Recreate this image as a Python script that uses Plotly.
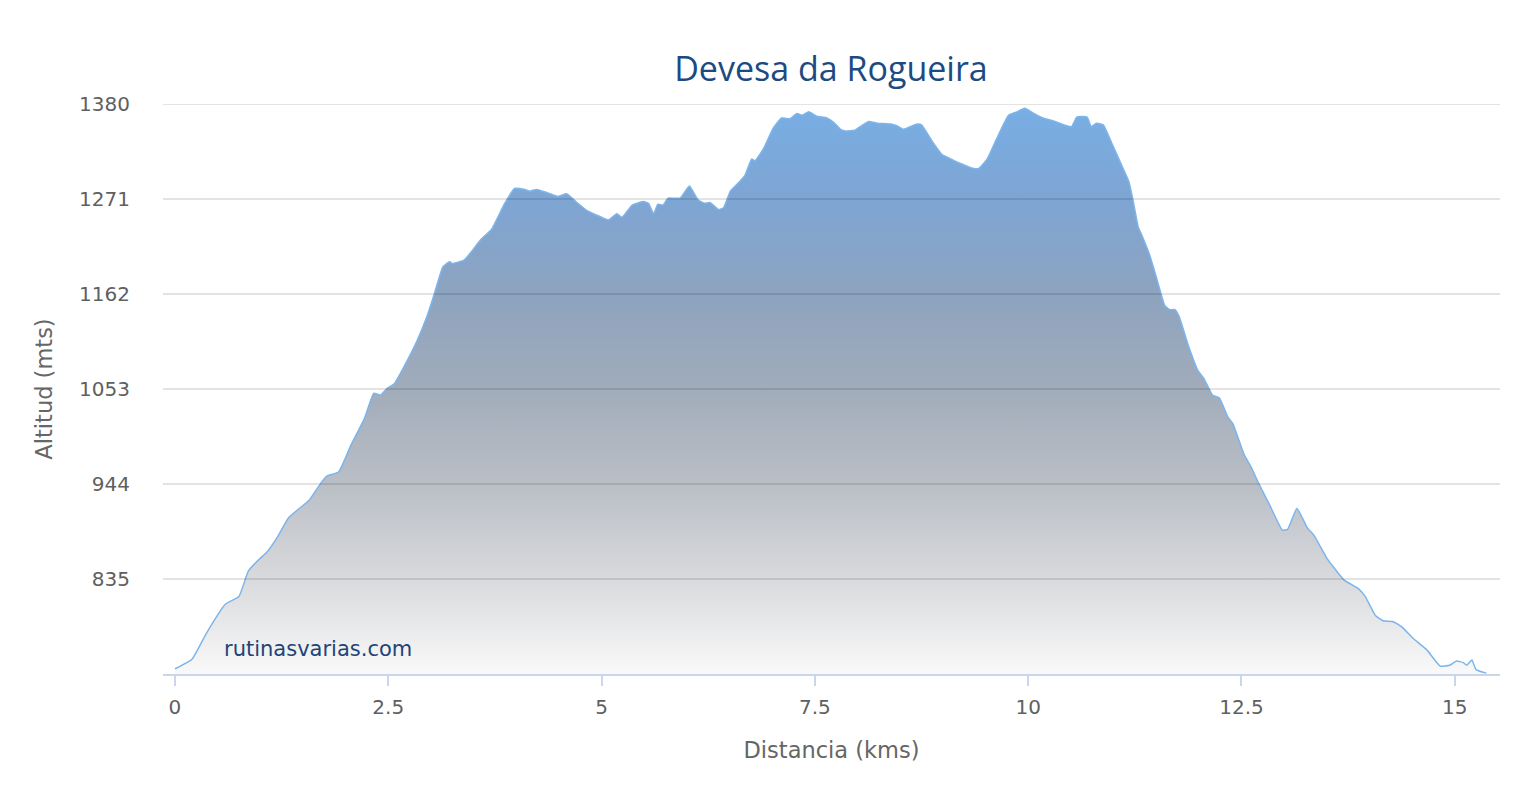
import plotly.graph_objects as go

# perfil de altitud (distancia en km, altitud en m)
km = [0, 0.2, 0.37, 0.59, 0.75, 0.86, 0.98, 1.08, 1.2, 1.33, 1.47, 1.57, 1.71, 1.78, 1.92,
      2.06, 2.22, 2.33, 2.41, 2.49, 2.57, 2.73, 2.84, 2.96, 3.04, 3.14, 3.22, 3.25, 3.39, 3.47,
      3.59, 3.71, 3.86, 3.98, 4.1, 4.16, 4.24, 4.37, 4.49, 4.59, 4.71, 4.84, 4.98, 5.08, 5.18,
      5.24, 5.36, 5.49, 5.55, 5.61, 5.66, 5.72, 5.78, 5.92, 6.03, 6.13, 6.21, 6.27, 6.37, 6.43,
      6.51, 6.62, 6.68, 6.76, 6.8, 6.9, 7.01, 7.11, 7.21, 7.29, 7.35, 7.43, 7.52, 7.64, 7.72,
      7.8, 7.86, 7.97, 8.13, 8.23, 8.39, 8.46, 8.54, 8.7, 8.75, 8.89, 8.99, 9.05, 9.2, 9.36,
      9.42, 9.52, 9.63, 9.77, 9.87, 9.96, 10.07, 10.2, 10.28, 10.45, 10.51, 10.57, 10.69, 10.74,
      10.8, 10.88, 10.98, 11.09, 11.18, 11.23, 11.29, 11.33, 11.42, 11.5, 11.6, 11.66, 11.72,
      11.77, 11.87, 11.99, 12.06, 12.16, 12.24, 12.34, 12.4, 12.53, 12.61, 12.69, 12.84, 12.98,
      13.04, 13.15, 13.27, 13.35, 13.5, 13.7, 13.87, 13.95, 14.07, 14.16, 14.28, 14.38, 14.51,
      14.67, 14.83, 14.94, 15.02, 15.1, 15.14, 15.2, 15.25, 15.37]

altitud = [732, 743, 773, 806, 815, 844, 857, 866, 883, 905, 917, 925, 945, 953, 958,
           988, 1019, 1048, 1046, 1054, 1059, 1087, 1109, 1138, 1162, 1193, 1199, 1197, 1201, 1210,
           1225, 1236, 1265, 1283, 1282, 1280, 1282, 1278, 1274, 1277, 1267, 1257, 1251, 1247, 1254,
           1250, 1264, 1268, 1266, 1254, 1265, 1264, 1272, 1272, 1286, 1270, 1266, 1267, 1259, 1261,
           1280, 1291, 1298, 1317, 1315, 1329, 1352, 1364, 1363, 1369, 1367, 1371, 1366, 1364, 1359,
           1351, 1349, 1350, 1360, 1358, 1357, 1355, 1351, 1357, 1356, 1335, 1322, 1319, 1312, 1306,
           1306, 1317, 1340, 1367, 1371, 1375, 1369, 1363, 1361, 1355, 1354, 1365, 1365, 1354,
           1358, 1356, 1335, 1311, 1291, 1269, 1239, 1230, 1208, 1182, 1149, 1144, 1144,
           1136, 1105, 1074, 1065, 1046, 1043, 1021, 1013, 978, 964, 947, 918, 891,
           892, 916, 894, 885, 859, 834, 824, 815, 793, 787, 786, 780, 767,
           754, 735, 736, 741, 739, 736, 742, 731, 727]

y_ticks = [835, 944, 1053, 1162, 1271, 1380]
x_ticks = [0, 2.5, 5, 7.5, 10, 12.5, 15]
x_labels = ["0", "2.5", "5", "7.5", "10", "12.5", "15"]

fig = go.Figure()
fig.add_trace(go.Scatter(
    x=km, y=altitud, mode="lines", fill="tozeroy",
    line=dict(color="#7cb5ec", width=1.5, shape="spline", smoothing=0.4),
    fillgradient=dict(
        type="vertical", start=726, stop=1380,
        colorscale=[[0, "rgb(249,249,249)"],
                    [0.17, "rgb(216,217,220)"],
                    [0.33, "rgb(186,191,198)"],
                    [0.5, "rgb(161,172,186)"],
                    [0.67, "rgb(141,163,191)"],
                    [0.83, "rgb(126,165,211)"],
                    [1, "rgb(120,174,228)"]]),
    hoverinfo="x+y", showlegend=False,
))

# lineas de rejilla por encima del relleno
for v in y_ticks:
    fig.add_hline(y=v, line=dict(color="rgba(0,0,0,0.15)", width=1.5), layer="above")

fig.add_annotation(
    text="rutinasvarias.com", xref="paper", yref="paper", x=0.044, y=0.044,
    xanchor="left", yanchor="middle", showarrow=False,
    font=dict(family="DejaVu Sans", size=21, color="#1f4478"),
)

# la pagina tiene 8px de margen en el body
fig.update_layout(
    width=1524, height=784,
    margin=dict(l=155, r=32, t=96, b=118),
    paper_bgcolor="white", plot_bgcolor="white",
    font=dict(family="DejaVu Sans", color="#666666"),
    title=dict(text="Devesa da Rogueira", x=0.54, xanchor="center", y=0.922, yanchor="middle",
               font=dict(family="Open Sans", size=34, color="#1c4a82")),
    xaxis=dict(
        range=[-0.14, 15.53], tickvals=x_ticks, ticktext=x_labels,
        showgrid=False, zeroline=False, showline=True, linecolor="#ccd6eb", linewidth=1.5,
        ticks="outside", ticklen=10, tickcolor="#ccd6eb", tickwidth=1.5,
        tickfont=dict(size=20, color="#606060"), ticklabelstandoff=4,
        title=dict(text="Distancia (kms)", font=dict(size=22.5, color="#666666"), standoff=24),
    ),
    yaxis=dict(
        range=[726, 1380], tickvals=y_ticks, showgrid=False, zeroline=False,
        tickfont=dict(size=20, color="#606060"), ticklabelstandoff=32,
        title=dict(text="Altitud (mts)", font=dict(size=22.5, color="#666666"), standoff=20),
    ),
)

fig.write_html("out.html")
